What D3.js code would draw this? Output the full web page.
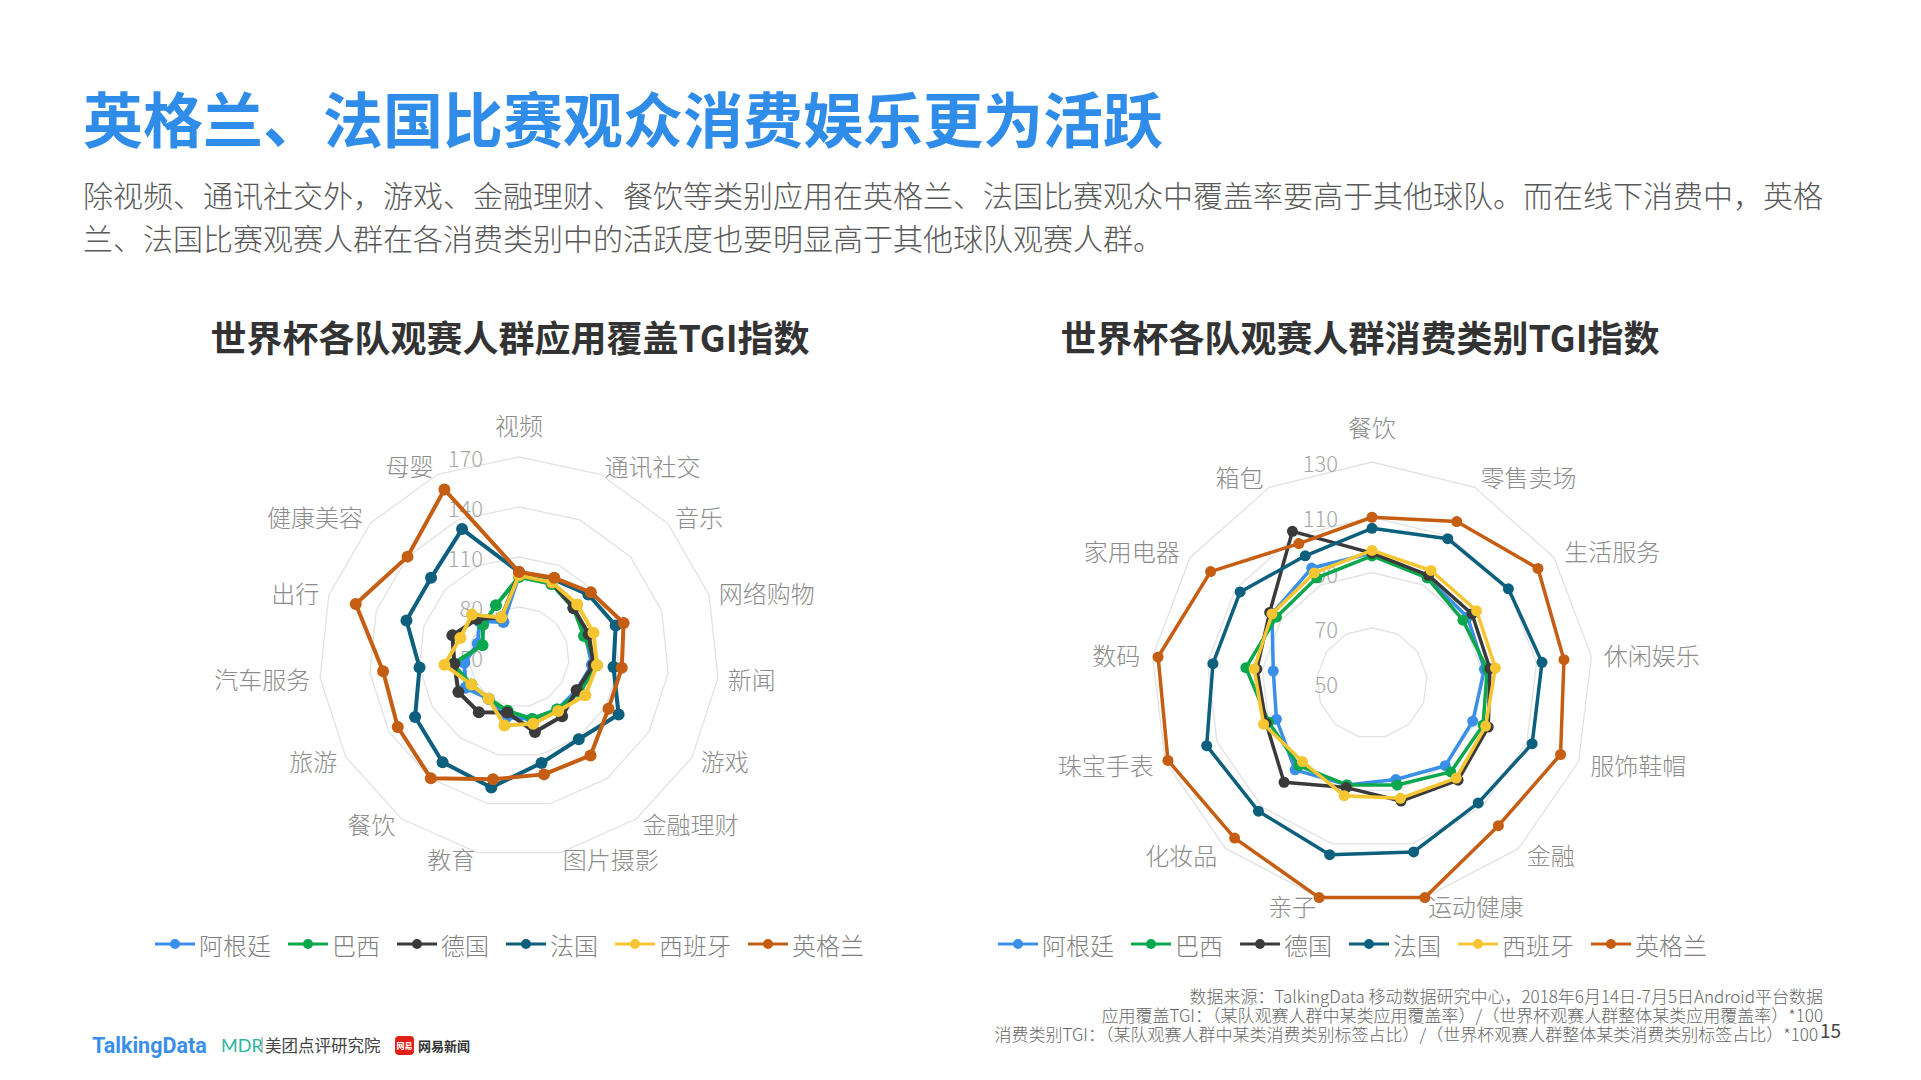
<!DOCTYPE html>
<html>
<head>
<meta charset="utf-8">
<script src="https://cdn.jsdelivr.net/npm/d3@7"></script>
<style>
  body { margin: 0; background: #fff; }
  svg text { font-family: "Noto Sans CJK SC", "Noto Sans", sans-serif; }
</style>
</head>
<body>
<svg id="chart" width="1921" height="1080"></svg>
<script>
// teams, in legend / drawing order
var teams = ["阿根廷", "巴西", "德国", "法国", "西班牙", "英格兰"];
var teamColors = ["#3a8fe8", "#0aa74c", "#3a3a3a", "#0c5f7d", "#f6c532", "#c55d13"];

// left chart: app coverage TGI
var appCategories = ["视频", "通讯社交", "音乐", "网络购物", "新闻", "游戏", "金融理财", "图片摄影",
                     "教育", "餐饮", "旅游", "汽车服务", "出行", "健康美容", "母婴"];
var appTicks = [50, 80, 110, 140, 170];
var appArgentina = [99, 98, 94, 92, 94, 90, 89, 88, 87, 81, 87, 83, 76, 82, 73];
var appBrazil    = [98, 98, 94, 91, 97, 92, 89, 88, 83, 81, 83, 90, 73, 79, 84];
var appGermany   = [100, 99, 94, 94, 95, 90, 94, 96, 84, 91, 92, 89, 92, 84, 76];
var appFrance    = [101, 101, 106, 111, 107, 119, 111, 115, 130, 128, 122, 110, 121, 121, 134];
var appSpain     = [99, 99, 97, 97, 97, 96, 90, 91, 92, 81, 83, 95, 87, 88, 76];
var appEngland   = [101, 102, 108, 116, 112, 112, 123, 122, 125, 140, 134, 132, 153, 140, 160];

// right chart: consumption category TGI
var spendCategories = ["餐饮", "零售卖场", "生活服务", "休闲娱乐", "服饰鞋帽", "金融", "运动健康",
                       "亲子", "化妆品", "珠宝手表", "数码", "家用电器", "箱包"];
var spendTicks = [50, 70, 90, 110, 130];
var spendArgentina = [97, 93, 92, 91, 89, 90, 86, 88, 92, 87, 86, 94, 97];
var spendBrazil    = [96, 93, 90, 92, 93, 93, 88, 88, 90, 90, 96, 92, 93];
var spendGermany   = [97, 94, 94, 93, 95, 97, 94, 89, 98, 91, 92, 95, 112];
var spendFrance    = [106, 109, 110, 112, 112, 108, 113, 114, 112, 114, 108, 108, 102];
var spendSpain     = [98, 96, 96, 95, 94, 96, 93, 92, 88, 92, 93, 94, 95];
var spendEngland   = [110, 116, 123, 120, 123, 119, 130, 130, 125, 129, 128, 121, 107];

var svg = d3.select("#chart");

// header
svg.append("text")
  .attr("x", 83).attr("y", 116)
  .attr("dominant-baseline", "central")
  .attr("font-size", 60).attr("font-weight", 700)
  .attr("fill", "#2f8ce8")
  .text("英格兰、法国比赛观众消费娱乐更为活跃");

var intro = [
  "除视频、通讯社交外，游戏、金融理财、餐饮等类别应用在英格兰、法国比赛观众中覆盖率要高于其他球队。而在线下消费中，英格",
  "兰、法国比赛观赛人群在各消费类别中的活跃度也要明显高于其他球队观赛人群。"
];
svg.selectAll(".intro").data(intro).enter().append("text")
  .attr("class", "intro")
  .attr("x", 83).attr("y", function(d, i) { return 194 + i * 43; })
  .attr("dominant-baseline", "central")
  .attr("font-size", 30).attr("font-weight", 300)
  .attr("fill", "#595959")
  .text(function(d) { return d; });

function drawRadar(opts) {
  var g = svg.append("g")
        .attr("transform", "translate(" + opts.cx + "," + opts.cy + ")");
  var n = opts.categories.length;

  var angle = d3.scaleLinear().domain([0, n]).range([0, 2 * Math.PI]);
  var r = d3.scaleLinear().domain(d3.extent(opts.ticks)).range([0, opts.radius]);

  var radial = d3.lineRadial()
        .angle(function(d, i) { return angle(i); })
        .radius(function(d) { return r(d); })
        .curve(d3.curveLinearClosed);

  // grid rings
  g.selectAll(".ring")
    .data(opts.ticks.slice(1))
    .enter().append("path")
    .attr("class", "ring")
    .attr("d", function(t) { return radial(d3.range(n).map(function() { return t; })); })
    .attr("fill", "none")
    .attr("stroke", "#e2e2e2")
    .attr("stroke-width", 1.3);

  // ring value labels
  g.selectAll(".tick")
    .data(opts.ticks)
    .enter().append("text")
    .attr("class", "tick")
    .attr("x", -opts.tickGap)
    .attr("y", function(t) { return -r(t); })
    .attr("text-anchor", "end")
    .attr("dominant-baseline", "central")
    .attr("font-size", 22).attr("font-weight", 300)
    .attr("fill", "#a8a8a8")
    .text(function(t) { return t; });

  // category labels
  var labelR = opts.radius + opts.labelGap;
  g.selectAll(".cat")
    .data(opts.categories)
    .enter().append("text")
    .attr("class", "cat")
    .attr("x", function(d, i) { return d3.pointRadial(angle(i), labelR)[0]; })
    .attr("y", function(d, i) {
      var p = d3.pointRadial(angle(i), labelR);
      var c = Math.cos(angle(i));
      var y = c < 0 ? p[1] + 4 * c : p[1];
      return i === 0 ? y - 23 : y;
    })
    .attr("text-anchor", function(d, i) {
      var s = Math.sin(angle(i));
      return s > 0.01 ? "start" : (s < -0.01 ? "end" : "middle");
    })
    .attr("dominant-baseline", "central")
    .attr("font-size", 24).attr("font-weight", 300)
    .attr("fill", "#8c8c8c")
    .text(function(d) { return d; });

  // series
  opts.series.forEach(function(values, k) {
    var sg = g.append("g").attr("class", "series");
    sg.append("path")
      .datum(values)
      .attr("d", radial)
      .attr("fill", "none")
      .attr("stroke", teamColors[k])
      .attr("stroke-width", opts.lineWidth)
      .attr("stroke-linejoin", "round");
    sg.selectAll("circle")
      .data(values)
      .enter().append("circle")
      .attr("cx", function(d, i) { return d3.pointRadial(angle(i), r(d))[0]; })
      .attr("cy", function(d, i) { return d3.pointRadial(angle(i), r(d))[1]; })
      .attr("r", opts.markerR)
      .attr("fill", teamColors[k]);
  });

  // chart title
  svg.append("text")
    .attr("x", opts.titleX).attr("y", 336)
    .attr("text-anchor", "middle")
    .attr("dominant-baseline", "central")
    .attr("font-size", 36).attr("font-weight", 700)
    .attr("fill", "#333")
    .text(opts.title);

  // legend
  var lg = svg.append("g").attr("transform", "translate(" + opts.legendX + ",944)");
  var x = 0;
  teams.forEach(function(name, k) {
    var item = lg.append("g").attr("transform", "translate(" + x + ",0)");
    item.append("line")
      .attr("x1", 0).attr("x2", 40).attr("y1", 0).attr("y2", 0)
      .attr("stroke", teamColors[k]).attr("stroke-width", 3);
    item.append("circle")
      .attr("cx", 20).attr("cy", 0).attr("r", 5)
      .attr("fill", teamColors[k]);
    var t = item.append("text")
      .attr("x", 44).attr("y", 0)
      .attr("dominant-baseline", "central")
      .attr("font-size", 24).attr("font-weight", 300)
      .attr("fill", "#7f7f7f")
      .text(name);
    x += 44 + t.node().getComputedTextLength() + 17;
  });
}

drawRadar({
  cx: 519, cy: 657, radius: 200, tickGap: 36, labelGap: 10,
  categories: appCategories, ticks: appTicks,
  series: [appArgentina, appBrazil, appGermany, appFrance, appSpain, appEngland],
  lineWidth: 4, markerR: 6,
  title: "世界杯各队观赛人群应用覆盖TGI指数", titleX: 510,
  legendX: 155
});

drawRadar({
  cx: 1372, cy: 683, radius: 221, tickGap: 34, labelGap: 12.5,
  categories: spendCategories, ticks: spendTicks,
  series: [spendArgentina, spendBrazil, spendGermany, spendFrance, spendSpain, spendEngland],
  lineWidth: 3.5, markerR: 5.5,
  title: "世界杯各队观赛人群消费类别TGI指数", titleX: 1360,
  legendX: 998
});

// footnotes
var notes = [
  "数据来源：TalkingData 移动数据研究中心，2018年6月14日-7月5日Android平台数据",
  "应用覆盖TGI：（某队观赛人群中某类应用覆盖率）/（世界杯观赛人群整体某类应用覆盖率）*100",
  "消费类别TGI：（某队观赛人群中某类消费类别标签占比）/（世界杯观赛人群整体某类消费类别标签占比）*100"
];
svg.selectAll(".note").data(notes).enter().append("text")
  .attr("class", "note")
  .attr("x", function(d, i) { return i === 2 ? 1818 : 1823; })
  .attr("y", function(d, i) { return 995 + i * 19; })
  .attr("text-anchor", "end")
  .attr("dominant-baseline", "central")
  .attr("font-size", 17).attr("font-weight", 300)
  .attr("fill", "#666")
  .text(function(d) { return d; });

svg.append("text")
  .attr("x", 1820).attr("y", 1029)
  .attr("dominant-baseline", "central")
  .attr("font-size", 19)
  .attr("fill", "#444")
  .text("15");

// source logos
var logos = svg.append("g");
logos.append("text")
  .attr("x", 92).attr("y", 1045)
  .attr("dominant-baseline", "central")
  .attr("font-size", 21.5).attr("font-weight", 700)
  .attr("fill", "#3a8fe8")
  .style("font-family", "Roboto, sans-serif")
  .text("TalkingData");
logos.append("text")
  .attr("x", 221).attr("y", 1045)
  .attr("dominant-baseline", "central")
  .attr("font-size", 18)
  .attr("fill", "#2ab5a0")
  .style("font-family", "Lato, sans-serif")
  .text("MDR");
logos.append("line")
  .attr("x1", 262).attr("x2", 262).attr("y1", 1037).attr("y2", 1053)
  .attr("stroke", "#888").attr("stroke-width", 1);
logos.append("text")
  .attr("x", 265).attr("y", 1045)
  .attr("dominant-baseline", "central")
  .attr("font-size", 16.5)
  .attr("fill", "#444")
  .text("美团点评研究院");
logos.append("rect")
  .attr("x", 395).attr("y", 1036).attr("width", 19).attr("height", 19).attr("rx", 4)
  .attr("fill", "#e0201b");
logos.append("text")
  .attr("x", 404.5).attr("y", 1045)
  .attr("text-anchor", "middle")
  .attr("dominant-baseline", "central")
  .attr("font-size", 8).attr("font-weight", 700)
  .attr("fill", "#fff")
  .text("网易");
logos.append("text")
  .attr("x", 418).attr("y", 1045)
  .attr("dominant-baseline", "central")
  .attr("font-size", 13).attr("font-weight", 700)
  .attr("fill", "#333")
  .text("网易新闻");
</script>
</body>
</html>
